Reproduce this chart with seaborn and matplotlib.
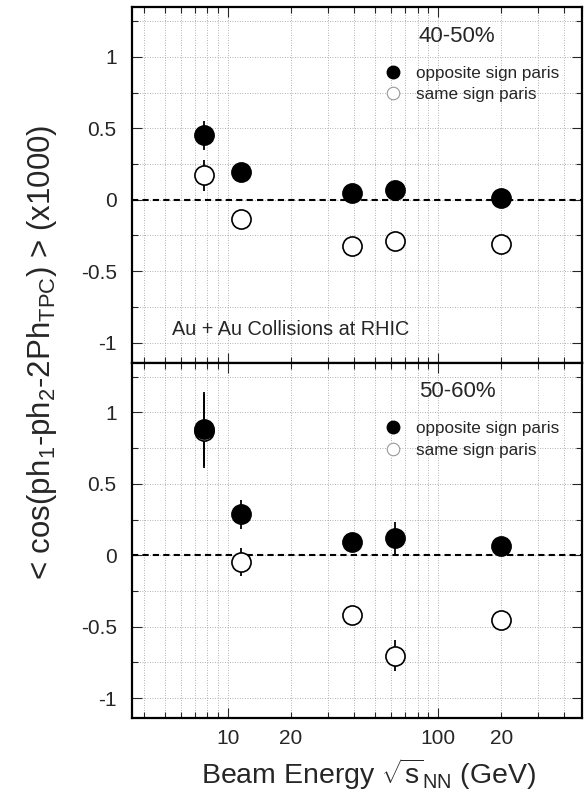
import numpy as np
import matplotlib
matplotlib.use("Agg")
import matplotlib.pyplot as plt
from matplotlib.lines import Line2D
from matplotlib.ticker import FixedLocator, MultipleLocator
import seaborn as sns

# beam energies (GeV) and correlator values (x1000)
energy = [7.7, 11.5, 39, 62.4, 200]

opp_4050 = [0.45, 0.195, 0.05, 0.066, 0.014]
opp_4050_err = [0.10, 0.03, 0.02, 0.02, 0.02]
same_4050 = [0.17, -0.138, -0.322, -0.291, -0.31]
same_4050_err = [0.11, 0.03, 0.02, 0.02, 0.02]

opp_5060 = [0.885, 0.286, 0.094, 0.122, 0.063]
opp_5060_err = [0.26, 0.10, 0.04, 0.11, 0.04]
same_5060 = [0.87, -0.047, -0.417, -0.703, -0.45]
same_5060_err = [0.26, 0.10, 0.04, 0.11, 0.04]

panels = [
    ("40-50%", opp_4050, opp_4050_err, same_4050, same_4050_err),
    ("50-60%", opp_5060, opp_5060_err, same_5060, same_5060_err),
]

xtick_major = [10, 100]
xtick_major_labels = ["10", "100"]
xtick_minor = [4, 5, 6, 7, 8, 9, 20, 30, 40, 50, 60, 70, 80, 90, 200, 300, 400]
xtick_minor_labels = ["" if v not in (20, 200) else "20" for v in xtick_minor]
ytick_vals = [-1, -0.5, 0, 0.5, 1]
ytick_labels = ["-1", "-0.5", "0", "0.5", "1"]

sns.set_theme(style="ticks")
plt.rcParams["font.family"] = ["Liberation Sans", "DejaVu Sans"]
plt.rcParams["mathtext.fontset"] = "custom"
plt.rcParams["mathtext.rm"] = "Liberation Sans"
plt.rcParams["mathtext.default"] = "regular"
plt.rcParams["axes.unicode_minus"] = False

fig, axes = plt.subplots(2, 1, figsize=(5.84, 8.02), dpi=100, sharex=True)
fig.subplots_adjust(left=0.226, right=0.9966, top=0.9913, bottom=0.1047, hspace=0)

for i, (ax, (label, opp, opp_err, same, same_err)) in enumerate(zip(axes, panels)):
    ax.set_xscale("log")
    ax.set_xlim(3.5, 485)
    ax.set_ylim(-1.14, 1.35)

    ax.axhline(0, color="black", linestyle=(0, (3, 2)), linewidth=1.5, zorder=2)

    ax.errorbar(energy, opp, yerr=opp_err, fmt="none", ecolor="black",
                elinewidth=1.3, capsize=0, zorder=3)
    ax.errorbar(energy, same, yerr=same_err, fmt="none", ecolor="black",
                elinewidth=1.3, capsize=0, zorder=3)
    sns.scatterplot(x=energy, y=same, ax=ax, s=190, color="white",
                    edgecolor="black", linewidth=1.2, legend=False, zorder=4)
    sns.scatterplot(x=energy, y=opp, ax=ax, s=190, color="black",
                    edgecolor="black", linewidth=1.2, legend=False, zorder=5)

    ax.xaxis.set_major_locator(FixedLocator(xtick_major))
    ax.xaxis.set_minor_locator(FixedLocator(xtick_minor))
    ax.set_xticks(xtick_major, xtick_major_labels)
    ax.set_xticks(xtick_minor, xtick_minor_labels, minor=True)
    ax.set_yticks(ytick_vals, ytick_labels)
    ax.yaxis.set_minor_locator(MultipleLocator(0.25))

    ax.tick_params(which="both", direction="in", top=True, right=True,
                   labelsize=15, width=0.8)
    ax.tick_params(axis="y", which="both", pad=11)
    ax.tick_params(axis="x", which="both", pad=8)
    ax.tick_params(which="major", length=7)
    ax.tick_params(which="minor", length=4)
    ax.grid(True, which="both", linestyle=(0, (1, 2)), color="#999999", linewidth=0.6)
    ax.set_axisbelow(True)
    for sp in ax.spines.values():
        sp.set_linewidth(1.6)
        sp.set_color("black")

    ax.text(0.722, 0.918, label, transform=ax.transAxes, ha="center", va="center",
            fontsize=16)

    handles = [
        Line2D([], [], marker="o", linestyle="none", markersize=9,
               markerfacecolor="black", markeredgecolor="black"),
        Line2D([], [], marker="o", linestyle="none", markersize=9,
               markerfacecolor="white", markeredgecolor="#999999", markeredgewidth=0.8),
    ]
    ax.legend(handles, ["opposite sign paris", "same sign paris"], loc="upper left",
              bbox_to_anchor=(0.53, 0.869), frameon=False, fontsize=12.3,
              handletextpad=0.75, labelspacing=0.4, handlelength=1.2, borderpad=0.2)
    ax.set_ylabel("")

axes[0].tick_params(axis="x", which="both", labelbottom=False)
axes[0].text(0.089, 0.093, "Au + Au Collisions at RHIC", transform=axes[0].transAxes,
             ha="left", va="center", fontsize=14.3)

axes[1].set_xlabel(r"Beam Energy $\sqrt{s}_{NN}$ (GeV)", fontsize=20.5, labelpad=6,
                   x=0.525)
fig.text(0.072, 0.561, r"< cos(ph$_1$-ph$_2$-2Ph$_{TPC}$) > (x1000)", rotation=90,
         ha="center", va="center", fontsize=22.5)

fig.savefig("out.png", dpi=100)
